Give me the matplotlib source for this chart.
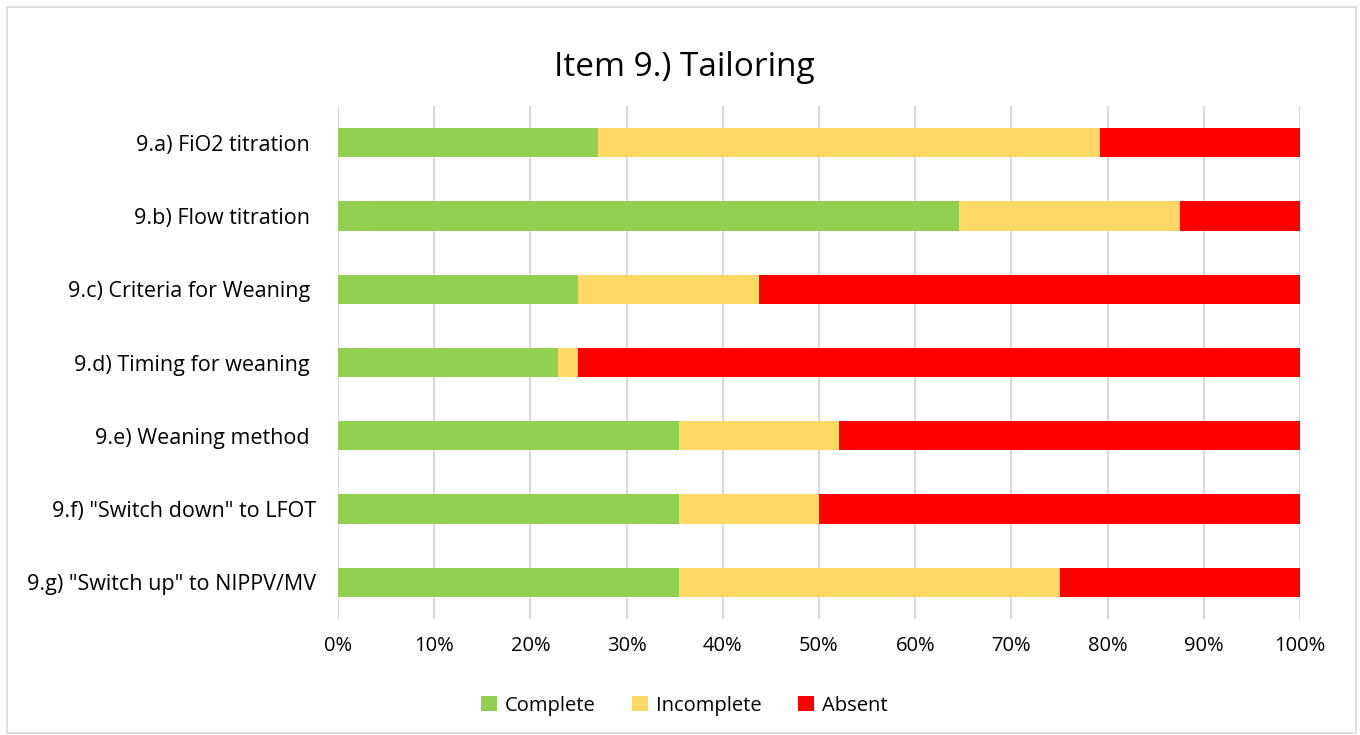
import matplotlib
matplotlib.use("Agg")
import matplotlib.pyplot as plt
from matplotlib.patches import Rectangle
from matplotlib.ticker import FuncFormatter, MultipleLocator

plt.rcParams['font.family'] = ['Open Sans', 'DejaVu Sans']

categories = ['9.a) FiO2 titration ', '9.b) Flow titration ', '9.c) Criteria for Weaning ',
              '9.d) Timing for weaning ', '9.e) Weaning method ', '9.f) "Switch down" to LFOT',
              '9.g) "Switch up" to NIPPV/MV']
complete = [27.08, 64.58, 25.00, 22.92, 35.42, 35.42, 35.42]
incomplete = [52.08, 22.92, 18.75, 2.08, 16.67, 14.58, 39.58]
absent = [20.84, 12.50, 56.25, 75.00, 47.91, 50.00, 25.00]
series_names = ['Complete', 'Incomplete', 'Absent']
colors = ['#92D050', '#FFD966', '#FF0000']

fig = plt.figure(figsize=(13.6, 7.35), dpi=100)
ax = fig.add_axes([0.2485, 0.1578, 0.7074, 0.698])

y = list(range(len(categories)))
left = [0.0] * len(categories)
for vals, name, col in zip([complete, incomplete, absent], series_names, colors):
    ax.barh(y, vals, left=left, height=0.4, color=col, label=name, zorder=3)
    left = [l + v for l, v in zip(left, vals)]

ax.set_xlim(0, 100)
ax.set_ylim(len(categories) - 0.5, -0.5)
ax.set_yticks(y)
ax.set_yticklabels(categories, fontsize=15.5, color='#000000')
ax.xaxis.set_major_locator(MultipleLocator(10))
ax.xaxis.set_major_formatter(FuncFormatter(lambda v, p: f"{int(round(v))}%"))
ax.tick_params(axis='x', labelsize=14.5, length=0, pad=12, colors='#000000')
ax.tick_params(axis='y', length=0, pad=16)
ax.grid(axis='x', color='#D9D9D9', linewidth=1.5, zorder=0)
for s in ax.spines.values():
    s.set_visible(False)

fig.text(0.503, 0.908, 'Item 9.) Tailoring', ha='center', va='center', fontsize=24, color='#000000')

fig.legend(loc='center', bbox_to_anchor=(0.503, 0.04), ncol=3, frameon=False,
           fontsize=14.5, handlelength=0.8, handleheight=0.8, handletextpad=0.4, columnspacing=1.8)

fig.patches.append(Rectangle((0.005, 0.003), 0.992, 0.987, transform=fig.transFigure,
                             fill=False, edgecolor='#D9D9D9', linewidth=1.2))

fig.savefig('out.png', dpi=100, facecolor='white')
